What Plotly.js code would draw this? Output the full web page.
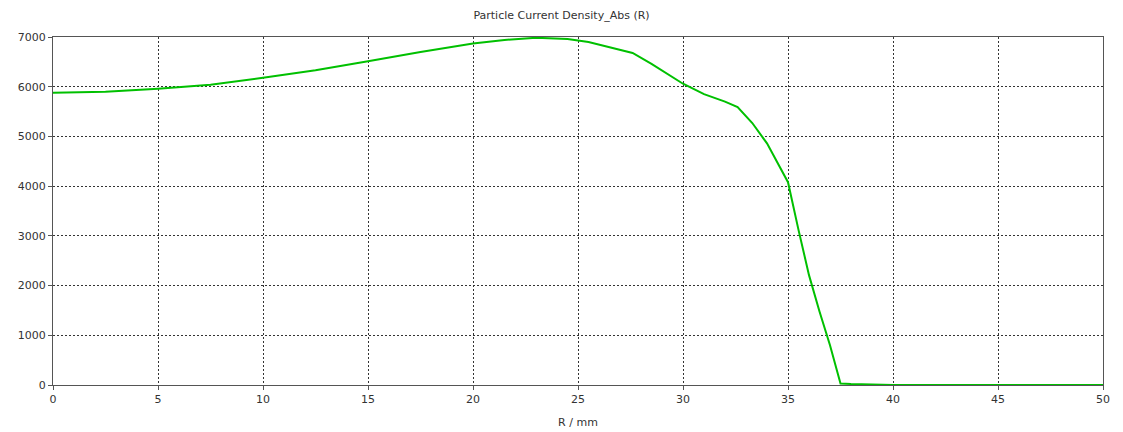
<!DOCTYPE html>
<html>
<head>
<meta charset="utf-8">
<script src="https://cdn.plot.ly/plotly-3.0.1.min.js"></script>
<style>html,body{margin:0;padding:0;background:#fff;}#chart{width:1123px;height:432px;}</style>
</head>
<body>
<div id="chart"></div>
<script>
var chartTitle = "Particle Current Density_Abs (R)";
var xTitle = "R / mm";
var rValues = [0, 2.5, 5, 7.5, 10, 12.5, 15, 17.5, 20, 21.5, 23, 24.5, 25.5, 26.5, 27.6, 28.5, 29.5, 30, 31, 32, 32.6, 33.3, 34, 34.6, 35, 35.5, 36, 36.5, 37, 37.5, 38, 40, 45, 50];
var densityValues = [5880, 5900, 5960, 6040, 6180, 6330, 6510, 6700, 6870, 6940, 6985, 6960, 6900, 6800, 6680, 6460, 6200, 6060, 5850, 5700, 5590, 5270, 4860, 4390, 4080, 3120, 2210, 1480, 800, 30, 20, 0, 0, 0];
var xTicks = [0, 5, 10, 15, 20, 25, 30, 35, 40, 45, 50];
var yTicks = [0, 1000, 2000, 3000, 4000, 5000, 6000, 7000];

var font = {family: "DejaVu Sans, Verdana, sans-serif", size: 11, color: "#333"};
var trace = {
  x: rValues, y: densityValues, type: "scatter", mode: "lines",
  line: {color: "#00c000", width: 2}, hoverinfo: "x+y"
};
var axisCommon = {
  showline: true, linecolor: "#555", linewidth: 1, mirror: true,
  ticks: "outside", ticklen: 4, tickcolor: "#555",
  showgrid: true, gridcolor: "#333", gridwidth: 1, griddash: "2px,2px",
  zeroline: false, tickfont: font
};
var layout = {
  width: 1123, height: 432,
  margin: {l: 53, r: 20, t: 37, b: 47},
  paper_bgcolor: "#fff", plot_bgcolor: "#fff",
  font: font,
  showlegend: false,
  title: {text: chartTitle, font: {family: font.family, size: 11, color: "#333"}, x: 0.5, xanchor: "center", y: 0.965, yanchor: "middle"},
  xaxis: Object.assign({}, axisCommon, {range: [0, 50], tickvals: xTicks, ticktext: xTicks.map(String), title: {text: xTitle, font: font, standoff: 13}}),
  yaxis: Object.assign({}, axisCommon, {range: [0, 7000], tickvals: yTicks, ticktext: yTicks.map(String)})
};
Plotly.newPlot("chart", [trace], layout, {displayModeBar: false, staticPlot: true});
</script>
</body>
</html>
